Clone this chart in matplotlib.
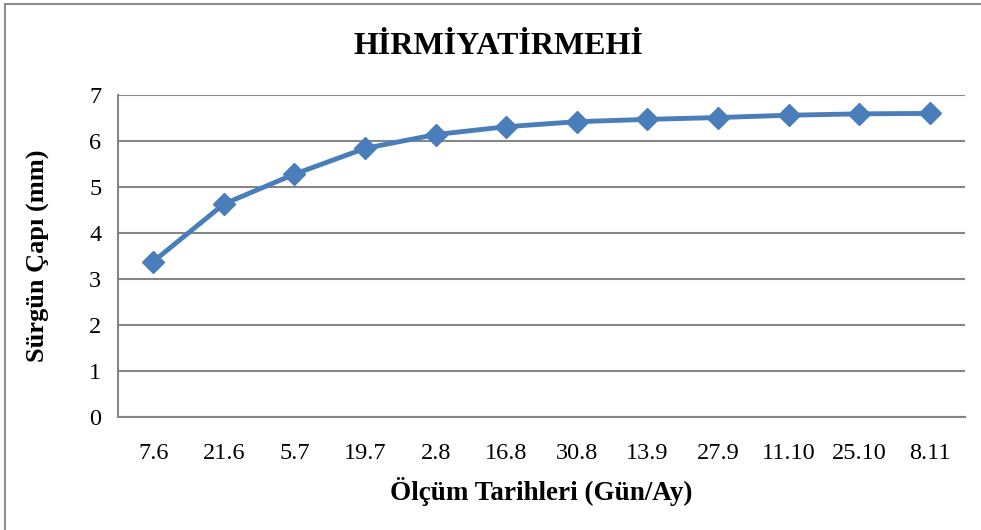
import matplotlib.pyplot as plt
from matplotlib.patches import Rectangle

dates = ['7.6', '21.6', '5.7', '19.7', '2.8', '16.8', '30.8', '13.9',
         '27.9', '11.10', '25.10', '8.11']
diameter = [3.38, 4.63, 5.28, 5.84, 6.14, 6.31, 6.42, 6.47, 6.51, 6.56, 6.59, 6.60]

plt.rcParams['font.family'] = ['Liberation Serif', 'DejaVu Serif']

fig = plt.figure(figsize=(9.81, 5.30), dpi=100)
fig.patches.append(Rectangle((5 / 981, -0.05), 1.1, (530 - 4) / 530 + 0.05,
                             transform=fig.transFigure, fill=False,
                             edgecolor='#8c8c8c', linewidth=1.5))

ax = fig.add_axes([118 / 981, 1 - 417 / 530, (965 - 118) / 981, (417 - 95) / 530])

x = range(len(dates))
ax.plot(x, diameter, color='#4A7EBB', linewidth=3.5, marker='D', markersize=11,
        clip_on=False, zorder=3)

ax.set_xlim(-0.5, len(dates) - 0.5)
ax.set_ylim(0, 7)
ax.set_yticks(range(0, 8))
ax.set_xticks(list(x))
ax.set_xticklabels(dates)
ax.tick_params(axis='both', length=0, labelsize=17.5)
ax.tick_params(axis='x', pad=19)
ax.tick_params(axis='y', pad=12)

ax.grid(axis='y', color='#868686', linewidth=1.5)
ax.set_axisbelow(True)
for side in ['top', 'right']:
    ax.spines[side].set_visible(False)
for side in ['left', 'bottom']:
    ax.spines[side].set_color('#868686')
    ax.spines[side].set_linewidth(1.5)

ax.set_xlabel('Ölçüm Tarihleri (Gün/Ay)', fontsize=19.5, fontweight='bold', labelpad=9)
ax.set_ylabel('Sürgün Çapı (mm)', fontsize=19, fontweight='bold', labelpad=28)
fig.text(0.508, 1 - 46 / 530, 'HİRMİYATİRMEHİ', ha='center', va='center',
         fontsize=23, fontweight='bold')

fig.savefig('out.png', dpi=100)
